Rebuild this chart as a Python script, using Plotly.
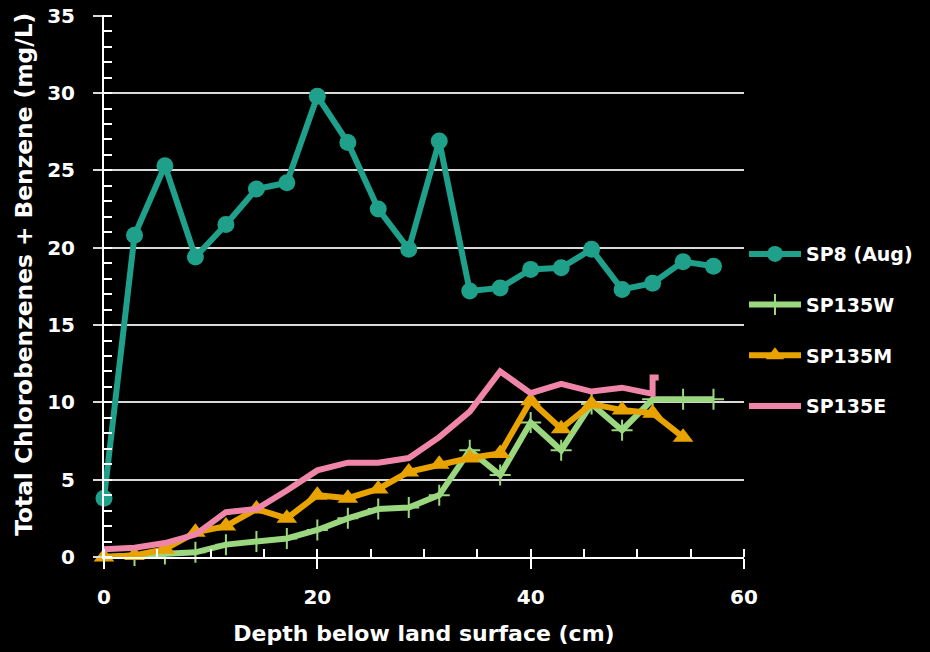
import plotly.graph_objects as go

depth = [0, 2.86, 5.71, 8.57, 11.43, 14.29, 17.14, 20, 22.86, 25.71, 28.57,
         31.43, 34.29, 37.14, 40, 42.86, 45.71, 48.57, 51.43, 54.29, 57.14]

sp8_aug = [3.8, 20.8, 25.3, 19.4, 21.5, 23.8, 24.2, 29.8, 26.8, 22.5, 19.9,
           26.9, 17.2, 17.4, 18.6, 18.7, 19.9, 17.3, 17.7, 19.1, 18.8]

sp135w = [0.0, 0.1, 0.2, 0.3, 0.8, 1.0, 1.2, 1.75, 2.5, 3.1, 3.2,
          4.0, 6.9, 5.3, 8.7, 6.9, 9.9, 8.2, 10.2, 10.2, 10.2]

depth_m = depth[:20]
sp135m = [0.0, 0.1, 0.5, 1.6, 2.0, 3.1, 2.5, 4.0, 3.8, 4.4, 5.5,
          6.0, 6.4, 6.7, 10.1, 8.3, 9.9, 9.5, 9.3, 7.75]

depth_e = depth[:19] + [51.43, 52.0]
sp135e = [0.5, 0.6, 0.9, 1.45, 2.9, 3.1, 4.3, 5.6, 6.1, 6.1, 6.4,
          7.75, 9.4, 12.0, 10.6, 11.2, 10.7, 10.95, 10.55, 11.6, 11.6]

names = ["SP8 (Aug)", "SP135W", "SP135M", "SP135E"]
x_ticks = [0, 20, 40, 60]
x_tick_labels = ["0", "20", "40", "60"]
y_ticks = [0, 5, 10, 15, 20, 25, 30, 35]
y_tick_labels = ["0", "5", "10", "15", "20", "25", "30", "35"]
y_title = "Total Chlorobenzenes + Benzene (mg/L)"
x_title = "Depth below land surface (cm)"

TEAL = "#1fa08b"
GREEN = "#9ad77f"
ORANGE = "#e8a300"
PINK = "#ef86aa"
WHITE = "#ffffff"
GRID = "#d9d9d9"
FONT = "DejaVu Sans"

fig = go.Figure()
fig.add_trace(go.Scatter(
    x=depth, y=sp8_aug, name=names[0], legendgroup="a", mode="lines+markers",
    line=dict(color=TEAL, width=6), cliponaxis=False,
    marker=dict(symbol="circle", size=17, color=TEAL)))
fig.add_trace(go.Scatter(
    x=depth, y=sp135w, name=names[1], legendgroup="b", mode="lines+markers",
    line=dict(color=GREEN, width=6), cliponaxis=False,
    marker=dict(symbol="cross-thin", size=15, color=GREEN,
                line=dict(color=GREEN, width=2))))
fig.add_trace(go.Scatter(
    x=depth_m, y=sp135m, name=names[2], legendgroup="c", mode="lines+markers",
    line=dict(color=ORANGE, width=6), cliponaxis=False,
    marker=dict(symbol="triangle-up", size=18, color=ORANGE)))
fig.add_trace(go.Scatter(
    x=depth_e, y=sp135e, name=names[3], legendgroup="d", mode="lines",
    line=dict(color=PINK, width=6), cliponaxis=False))
# overlay axis carrying the inward half of the crossing x major ticks
fig.add_trace(go.Scatter(x=[0, 60], y=[0, 0], xaxis="x2", mode="none",
                         showlegend=False, hoverinfo="skip"))

fig.update_layout(
    width=930, height=652,
    paper_bgcolor="black", plot_bgcolor="black",
    margin=dict(l=104, r=186, t=15, b=95, autoexpand=False),
    font=dict(family=FONT, color=WHITE, size=18, weight="bold"),
    showlegend=True,
    legend=dict(x=1.0, xanchor="left", y=0.594, yanchor="top",
                font=dict(family=FONT, size=19, color=WHITE, weight="bold"),
                bgcolor="rgba(0,0,0,0)", tracegroupgap=23, itemwidth=52),
    xaxis=dict(
        range=[0, 60], tickmode="array", tickvals=x_ticks, ticktext=x_tick_labels,
        showline=True, linecolor=WHITE, linewidth=2, showgrid=False, zeroline=False,
        ticks="outside", ticklen=10, tickwidth=2, tickcolor=WHITE,
        ticklabelstandoff=11,
        minor=dict(dtick=5, ticks="inside", ticklen=8, tickwidth=1.5,
                   tickcolor=WHITE, showgrid=False),
        title=dict(text=x_title, standoff=18,
                   font=dict(size=22, family=FONT, color=WHITE, weight="bold")),
        tickfont=dict(size=20, family=FONT, color=WHITE, weight="bold"),
    ),
    xaxis2=dict(
        overlaying="x", anchor="y", side="bottom", range=[0, 60],
        tickmode="array", tickvals=x_ticks, showticklabels=False,
        ticks="inside", ticklen=8, tickwidth=2, tickcolor=WHITE,
        showgrid=False, zeroline=False, showline=False,
    ),
    yaxis=dict(
        range=[0, 35.05], tickmode="array", tickvals=y_ticks, ticktext=y_tick_labels,
        showline=True, linecolor=WHITE, linewidth=2,
        showgrid=True, gridcolor=GRID, gridwidth=1.5, zeroline=False,
        ticks="outside", ticklen=9, tickwidth=2, tickcolor=GRID,
        ticklabelstandoff=14,
        minor=dict(dtick=1, ticks="inside", ticklen=8, tickwidth=1.5,
                   tickcolor=WHITE, showgrid=False),
        tickfont=dict(size=20, family=FONT, color=WHITE, weight="bold"),
    ),
    annotations=[dict(
        text=y_title, textangle=-90, xref="paper", yref="paper",
        x=-0.127, y=0.522, xanchor="center", yanchor="middle", showarrow=False,
        font=dict(size=23.3, family=FONT, color=WHITE, weight="bold"))],
)

fig.write_html(
    "out.html",
    config={"displayModeBar": False},
    post_script="document.body.style.margin='0';"
                "document.body.style.backgroundColor='black';",
)
